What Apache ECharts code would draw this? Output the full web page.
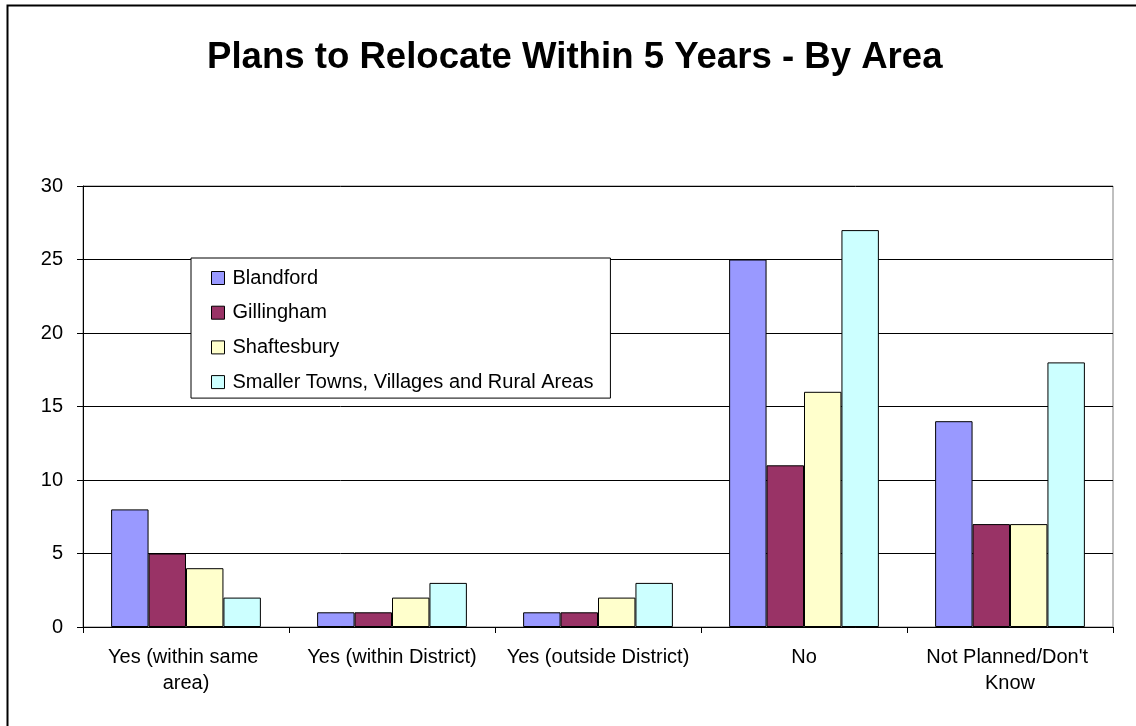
<!DOCTYPE html>
<html>
<head>
<meta charset="utf-8">
<script src="https://cdn.jsdelivr.net/npm/echarts@6/dist/echarts.min.js"></script>
<style>
  html, body { margin: 0; padding: 0; background: #fff; }
  #chart { width: 1136px; height: 726px; }
</style>
</head>
<body>
<div id="chart"></div>
<script>
const categories = ['Yes (within same area)', 'Yes (within District)', 'Yes (outside District)', 'No', "Not Planned/Don't Know"];
const seriesNames = ['Blandford', 'Gillingham', 'Shaftesbury', 'Smaller Towns, Villages and Rural Areas'];
const blandford = [8, 1, 1, 25, 14];
const gillingham = [5, 1, 1, 11, 7];
const shaftesbury = [4, 2, 2, 16, 7];
const smallerTowns = [2, 3, 3, 27, 18];
const yTicks = [0, 5, 10, 15, 20, 25, 30];

const colors = ['#9999FF', '#993366', '#FFFFCC', '#CCFFFF'];
const values = [blandford, gillingham, shaftesbury, smallerTowns];
const font = 'Arial, "Liberation Sans", sans-serif';

const chart = echarts.init(document.getElementById('chart'));

chart.setOption({
  animation: false,
  backgroundColor: '#ffffff',
  graphic: [{
    type: 'rect',
    shape: { x: 7.5, y: 5.5, width: 1200, height: 800 },
    style: { fill: 'none', stroke: '#000', lineWidth: 2 },
    silent: true
  }],
  title: {
    text: 'Plans to Relocate Within 5 Years - By Area',
    left: 202,
    top: 34,
    textStyle: { fontFamily: font, fontSize: 36.6, fontWeight: 'bold', color: '#000' }
  },
  legend: {
    orient: 'vertical',
    left: 191,
    top: 258,
    width: 421,
    padding: [10, 17, 6, 20],
    itemGap: 14.7,
    itemWidth: 13,
    itemHeight: 13,
    borderColor: '#000',
    borderWidth: 1,
    backgroundColor: '#fff',
    icon: 'rect',
    textStyle: { fontFamily: font, fontSize: 20, lineHeight: 20, color: '#000', padding: [0, 0, 0, 3] },
    data: seriesNames.map((n, i) => ({ name: n, itemStyle: { color: colors[i], borderColor: '#000', borderWidth: 1 } }))
  },
  grid: {
    left: 83,
    right: 23,
    top: 186,
    bottom: 99,
    show: true,
    borderColor: '#808080',
    borderWidth: 1
  },
  xAxis: {
    type: 'category',
    data: categories,
    axisLine: { lineStyle: { color: '#000', width: 1 } },
    axisTick: { show: true, length: 6, lineStyle: { color: '#000' } },
    axisLabel: {
      fontFamily: font,
      fontSize: 20,
      color: '#000',
      margin: 17,
      width: 192,
      overflow: 'break',
      lineHeight: 26,
      interval: 0
    }
  },
  yAxis: {
    type: 'value',
    min: yTicks[0],
    max: yTicks[yTicks.length - 1],
    interval: 5,
    axisLine: { show: true, lineStyle: { color: '#000' } },
    axisTick: { show: true, length: 6, lineStyle: { color: '#000' } },
    splitLine: { lineStyle: { color: '#000', width: 1 } },
    axisLabel: { fontFamily: font, fontSize: 20, color: '#000', margin: 20 }
  },
  series: seriesNames.map((name, i) => ({
    name: name,
    type: 'bar',
    data: values[i],
    barGap: '0%',
    barCategoryGap: '27.3%',
    itemStyle: { color: colors[i], borderColor: '#000', borderWidth: 1 }
  }))
});
</script>
</body>
</html>
